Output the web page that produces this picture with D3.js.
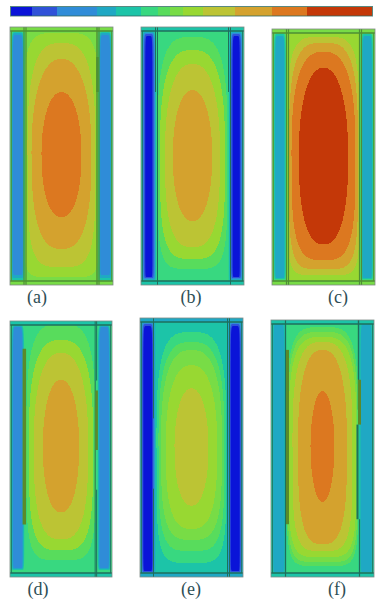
<!DOCTYPE html>
<html>
  <head>
    <meta charset="UTF-8">
    <style>
      html, body {
        margin: 0;
        background: #fff;
      }

      .label {
        font-family: "Liberation Serif", serif;
        font-size: 18px;
        fill: #2e4e55;
        text-anchor: middle;
      }
    </style>
    <script src="https://d3js.org/d3.v7.min.js"></script>
  </head>

  <body>
    <svg id="chart"></svg>

    <script type="text/javascript">
      // contour bands, low to high, and where each one ends on the colour bar
      let bandColors = ['#0a14d8', '#2f52d8', '#2f8cd8', '#1fa8c4', '#1cc4a8', '#38d880', '#58dc5c',
        '#78dc46', '#98d832', '#bcc434', '#d4a22e', '#dc7820', '#c43808']
      let legendEdges = [0, 21, 46, 86, 105, 130, 147, 159, 172, 192, 224, 261, 296, 361]

      let panelNames = ['(a)', '(b)', '(c)', '(d)', '(e)', '(f)']
      let baseBands = [7, 5, 8, 5, 4, 5]
      let columnBands = [5, 4, 6, 5, 3, 4]
      let stripBands = [7, 4, 7, 4, 3, 4]

      // field contours: [band, half width, top, bottom, squareness]
      let contoursA = [[8, 38, 6, 250, 5], [9, 34, 16, 240, 3], [10, 30, 32, 222, 2.3], [11, 20, 65, 190, 2.1]]
      let contoursB = [[6, 35, 10, 242, 3.4], [8, 32.5, 23, 232, 2.8], [9, 27.5, 37, 220, 2.4], [10, 19.7, 63, 194, 2.1]]
      let contoursC = [[9, 36, 8, 248, 4.5], [10, 34.5, 14, 242, 3.4], [11, 32, 23, 233, 2.7], [12, 24.7, 39, 217, 2.2]]
      let contoursD = [[6, 35, 3, 241, 3.4], [8, 32.5, 19, 231, 2.8], [9, 27.5, 32, 220, 2.4], [10, 18.3, 59, 193, 2.1]]
      let contoursE = [[5, 35, 14, 244, 3.4], [6, 33, 24, 232, 3], [7, 30.5, 32, 221, 2.7], [8, 25.7, 47, 210, 2.4], [9, 17, 70, 187, 2.1]]
      let contoursF = [[6, 36, 7, 247, 4], [7, 35, 12, 243, 3.8], [8, 34, 17, 238, 3.4], [9, 30, 22, 232, 3], [10, 24.5, 30, 225, 2.5], [11, 12, 71, 183, 2]]
      let fieldContours = [contoursA, contoursB, contoursC, contoursD, contoursE, contoursF]

      // side column contours: [band, half width, top, bottom]
      let sideA = [[4, 6.6, 5, 253], [3, 6, 6, 251], [2, 5, 8, 248]]
      let sideB = [[3, 6.8, 5, 253], [2, 6.2, 6, 252], [1, 5, 7, 251], [0, 3.6, 9, 250]]
      let sideC = [[5, 6.6, 4, 253], [4, 5.8, 5, 252], [3, 4.7, 7, 251]]
      let sideD = [[4, 6.6, 4, 251], [3, 5.8, 5, 250], [2, 4.8, 6, 249]]
      let sideE = [[2, 6.8, 5, 254], [1, 5.6, 6, 253], [0, 4.5, 8, 252]]
      let sideF = [[3, 5.6, 3, 253]]
      let sideContours = [sideA, sideB, sideC, sideD, sideE, sideF]

      // stiffeners: [x offset, from, to, weight]
      let stiffA = [[-37.5, 0, 258, 1.2], [-35.5, 0, 258, 1.2], [35.5, 0, 258, 1.4], [37.5, 0, 258, 1.2], [36, 30, 65, 2.5], [-50, 4, 254, 0.8], [50, 4, 254, 0.8]]
      let stiffB = [[-37, 0, 65, 1], [-35, 0, 258, 1], [36, 0, 65, 1], [38, 0, 258, 1], [-50, 4, 254, 0.8], [50, 4, 254, 0.8]]
      let stiffC = [[-37, 0, 258, 1.2], [-35, 0, 258, 1.2], [36, 0, 258, 1.2], [38, 0, 258, 1.2], [-50, 4, 254, 0.8], [50, 4, 254, 0.8]]
      let stiffD = [[-37, 28, 205, 3.5], [36, 0, 60, 1], [34.5, 0, 258, 1], [36, 70, 130, 2.5], [36, 170, 258, 1], [-50, 4, 254, 0.8], [50, 4, 254, 0.8]]
      let stiffE = [[-38, 0, 100, 1], [-38, 170, 258, 1], [36, 0, 258, 1], [38, 0, 258, 1], [-50, 4, 254, 0.8], [50, 4, 254, 0.8]]
      let stiffF = [[-37, 0, 258, 1.2], [-35, 30, 205, 3], [36, 0, 90, 1.4], [37, 60, 105, 3], [35, 105, 200, 2], [37, 200, 258, 1.2], [-50, 4, 254, 0.8], [50, 4, 254, 0.8]]
      let stiffeners = [stiffA, stiffB, stiffC, stiffD, stiffE, stiffF]

      function getConfig() {
        let width = 385
        let height = 600
        // panel boxes and label anchors in page pixels
        let frames = [
          {x0: 10, x1: 113, y0: 27, y1: 285, labelX: 37, labelY: 303, line: '#4e8f35', heavy: '#4e8f35'},
          {x0: 141, x1: 244, y0: 27, y1: 285, labelX: 191, labelY: 303, line: '#1f6f5c', heavy: '#1f6f5c'},
          {x0: 272, x1: 375, y0: 29, y1: 285, labelX: 338, labelY: 303, line: '#4e8f35', heavy: '#4e8f35'},
          {x0: 10, x1: 112, y0: 321, y1: 577, labelX: 38, labelY: 595, line: '#1f6f5c', heavy: '#5a8a2a'},
          {x0: 140, x1: 243, y0: 318, y1: 577, labelX: 191, labelY: 595, line: '#1f6f5c', heavy: '#1f6f5c'},
          {x0: 271, x1: 374, y0: 320, y1: 577, labelX: 337, labelY: 595, line: '#1f6f5c', heavy: '#5a8a2a'}
        ]
        let container = d3.select('#chart')
          .attr('width', width)
          .attr('height', height)
          .style('display', 'block')

        return {width, height, frames, container}
      }

      // outer contours run flatter at the lower end than at the dome on top,
      // the inner ones stay round at both ends
      function contourPath(x, y, cx, halfWidth, top, bottom, squareness) {
        let mid = (top + bottom) / 2
        let halfHeight = (bottom - top) / 2
        let lower = squareness + (squareness - 2) * 1.1
        let power = (t, n) => Math.sign(t) * Math.pow(Math.abs(t), 2 / n)
        let line = d3.line()
          .x(a => x(cx + halfWidth * power(Math.cos(a), Math.sin(a) > 0 ? lower : squareness)))
          .y(a => y(mid + halfHeight * power(Math.sin(a), Math.sin(a) > 0 ? lower : squareness)))
          .curve(d3.curveLinearClosed)
        return line(d3.range(0, 2 * Math.PI, Math.PI / 60))
      }

      function drawLegend(container) {
        let x = d3.scaleLinear()
          .domain([0, legendEdges[legendEdges.length - 1]])
          .range([11, 372])

        let legend = container.append('g')

        legend.selectAll('rect')
          .data(bandColors)
          .join('rect')
            .attr('x', (d, i) => x(legendEdges[i]))
            .attr('width', (d, i) => x(legendEdges[i + 1]) - x(legendEdges[i]))
            .attr('y', 7)
            .attr('height', 9)
            .attr('fill', d => d)

        legend.append('rect')
          .attr('x', 10.5)
          .attr('y', 6.5)
          .attr('width', 362)
          .attr('height', 9.5)
          .attr('fill', 'none')
          .attr('stroke', '#2f6a60')
          .attr('stroke-opacity', 0.8)
      }

      function drawPanel(container, frame, i, clipId) {
        let x = d3.scaleLinear().domain([-51.5, 51.5]).range([frame.x0, frame.x1])
        let y = d3.scaleLinear().domain([0, 258]).range([frame.y0, frame.y1])
        let color = band => bandColors[band]
        let panel = container.append('g')

        panel.append('rect')
          .attr('x', x(-51.5))
          .attr('y', y(0))
          .attr('width', x(51.5) - x(-51.5))
          .attr('height', y(258) - y(0))
          .attr('fill', color(baseBands[i]))

        panel.append('clipPath')
          .attr('id', clipId)
          .append('rect')
            .attr('x', x(-36.5))
            .attr('y', y(0))
            .attr('width', x(36.5) - x(-36.5))
            .attr('height', y(258) - y(0))

        panel.append('g')
          .attr('clip-path', `url(#${clipId})`)
          .selectAll('path')
          .data(fieldContours[i])
          .join('path')
            .attr('d', d => contourPath(x, y, 0, d[1], d[2], d[3], d[4]))
            .attr('fill', d => color(d[0]))
            .attr('shape-rendering', 'crispEdges')

        let sides = [-43.7, 43.7]
        sides.forEach(cx => {
          panel.append('rect')
            .attr('x', x(cx - 7.5))
            .attr('y', y(0))
            .attr('width', x(cx + 7.5) - x(cx - 7.5))
            .attr('height', y(258) - y(0))
            .attr('fill', color(columnBands[i]))

          panel.append('g')
            .selectAll('path')
            .data(sideContours[i])
            .join('path')
              .attr('d', d => contourPath(x, y, cx, d[1], d[2], d[3], 9))
              .attr('fill', d => color(d[0]))
        })

        // end strips
        let strips = [[0, 4], [254, 258]]
        panel.append('g')
          .selectAll('rect')
          .data(strips)
          .join('rect')
            .attr('x', x(-51.5))
            .attr('y', d => y(d[0]))
            .attr('width', x(51.5) - x(-51.5))
            .attr('height', d => y(d[1]) - y(d[0]))
            .attr('fill', color(stripBands[i]))

        panel.append('g')
          .selectAll('line')
          .data(stiffeners[i])
          .join('line')
            .attr('x1', d => x(d[0]))
            .attr('x2', d => x(d[0]))
            .attr('y1', d => y(d[1]))
            .attr('y2', d => y(d[2]))
            .attr('stroke', d => d[3] > 2 ? frame.heavy : frame.line)
            .attr('stroke-width', d => d[3])

        let rails = [4, 254]
        panel.append('g')
          .selectAll('line')
          .data(rails)
          .join('line')
            .attr('x1', x(-51.5))
            .attr('x2', x(51.5))
            .attr('y1', d => y(d))
            .attr('y2', d => y(d))
            .attr('stroke', frame.line)
            .attr('stroke-width', 1.4)

        panel.append('rect')
          .attr('x', x(-51.5))
          .attr('y', y(0))
          .attr('width', x(51.5) - x(-51.5))
          .attr('height', y(258) - y(0))
          .attr('fill', 'none')
          .attr('stroke', '#7f8a86')
          .attr('stroke-width', 0.8)

        container.append('text')
          .attr('class', 'label')
          .attr('x', frame.labelX)
          .attr('y', frame.labelY)
          .text(panelNames[i])
      }

      function showChart() {
        let {frames, container} = getConfig()
        drawLegend(container)
        frames.forEach((frame, i) => drawPanel(container, frame, i, `field-${i}`))
      }

      showChart()
    </script>
  </body>
</html>
